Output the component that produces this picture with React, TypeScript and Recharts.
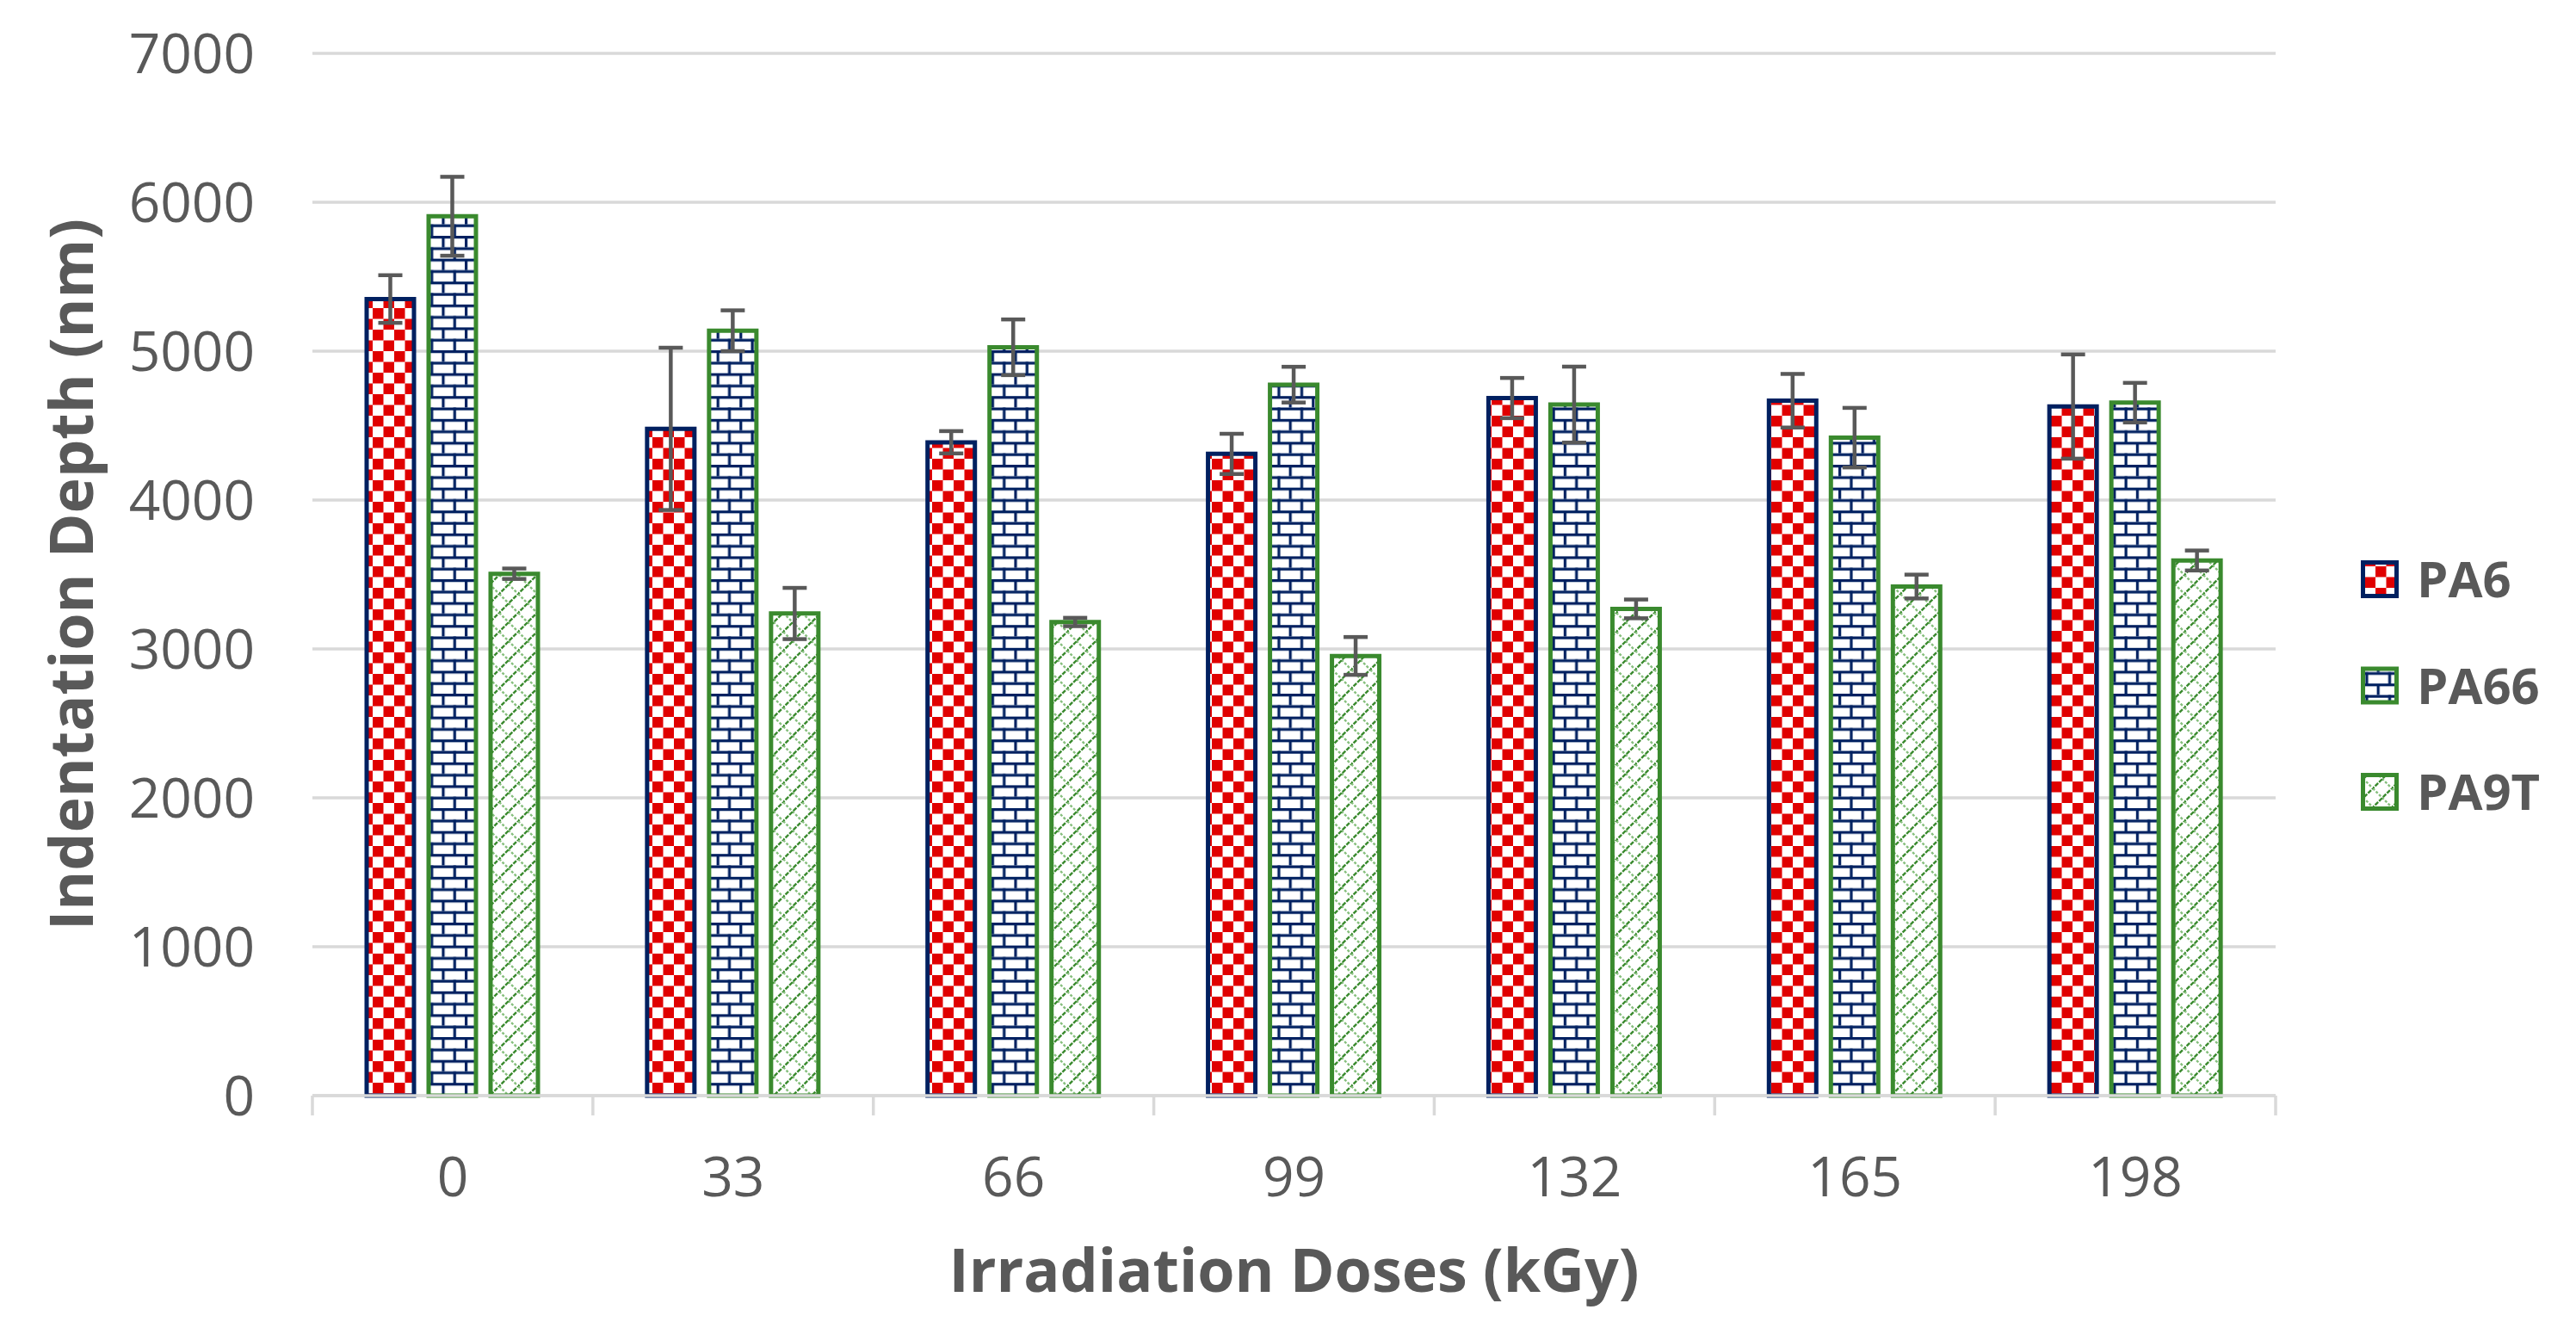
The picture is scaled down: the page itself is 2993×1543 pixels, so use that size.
import React from "react";
import {
  Bar,
  BarChart,
  CartesianGrid,
  ErrorBar,
  Legend,
  XAxis,
  YAxis,
} from "recharts";

const doses = ["0", "33", "66", "99", "132", "165", "198"];
const pa6 = [5350, 4478, 4388, 4310, 4685, 4667, 4628];
const pa6Err = [160, 545, 75, 135, 135, 180, 350];
const pa66 = [5906, 5137, 5026, 4775, 4641, 4419, 4654];
const pa66Err = [265, 137, 187, 120, 255, 200, 133];
const pa9t = [3505, 3238, 3181, 2953, 3269, 3419, 3594];
const pa9tErr = [35, 172, 28, 127, 63, 80, 67];
const yTicks = [0, 1000, 2000, 3000, 4000, 5000, 6000, 7000];

const data = doses.map((dose, i) => ({
  dose,
  pa6: pa6[i],
  pa6Err: pa6Err[i],
  pa66: pa66[i],
  pa66Err: pa66Err[i],
  pa9t: pa9t[i],
  pa9tErr: pa9tErr[i],
}));

const WIDTH = 2977;
const HEIGHT = 1527;
const PLOT_LEFT = 355;
const PLOT_RIGHT = 2636;
const PLOT_TOP = 54;
const AXIS_H = 262;
const BAND = (PLOT_RIGHT - PLOT_LEFT) / doses.length;

const textGray = "#595959";
const gridGray = "#d9d9d9";
const navy = "#002060";
const green = "#3a8a2e";
const font = "'Open Sans', sans-serif";

const seriesStyle: Record<string, { stroke: string; name: string }> = {
  pa6: { stroke: navy, name: "PA6" },
  pa66: { stroke: green, name: "PA66" },
  pa9t: { stroke: green, name: "PA9T" },
};

function patternDefs(prefix: string) {
  return (
    <defs>
      <pattern id={`${prefix}pa6`} width={25} height={25} patternUnits="userSpaceOnUse">
        <rect width={25} height={25} fill="#ffffff" />
        <rect width={12.5} height={12.5} fill="#e00000" />
        <rect x={12.5} y={12.5} width={12.5} height={12.5} fill="#e00000" />
      </pattern>
      <pattern id={`${prefix}pa66`} width={26.6} height={26.6} patternUnits="userSpaceOnUse">
        <rect width={26.6} height={26.6} fill="#ffffff" />
        <rect y={0} width={26.6} height={3.2} fill={navy} />
        <rect y={13.3} width={26.6} height={3.2} fill={navy} />
        <rect x={0} y={0} width={3.2} height={13.3} fill={navy} />
        <rect x={13.3} y={13.3} width={3.2} height={13.3} fill={navy} />
      </pattern>
      <pattern id={`${prefix}pa9t`} width={22} height={22} patternUnits="userSpaceOnUse">
        <rect width={22} height={22} fill="#ffffff" />
        <line x1={0} y1={0} x2={22} y2={22} stroke="#86bf7d" strokeWidth={2.4} strokeDasharray="3 2" />
        <line x1={-2} y1={24} x2={24} y2={-2} stroke={green} strokeWidth={2.4} strokeDasharray="5 1.5" />
      </pattern>
    </defs>
  );
}

function DoseTick(props: any) {
  const { x, y, payload, index } = props;
  const last = index === doses.length - 1;
  return (
    <g>
      <line x1={x - BAND / 2} y1={y} x2={x - BAND / 2} y2={y + 23} stroke={gridGray} strokeWidth={3.5} />
      {last ? (
        <line x1={x + BAND / 2} y1={y} x2={x + BAND / 2} y2={y + 23} stroke={gridGray} strokeWidth={3.5} />
      ) : null}
      <text x={x} y={y + 117} textAnchor="middle" fill={textGray} fontSize={64} fontFamily={font}>
        {payload.value}
      </text>
    </g>
  );
}

function LegendContent(props: any) {
  const items = (props.payload || []) as any[];
  return (
    <svg width={245} height={400}>
      {patternDefs("lg-")}
      {items.map((item, i) => {
        const key = String(item.dataKey);
        const style = seriesStyle[key];
        const cy = 65 + i * 123.5;
        return (
          <g key={key}>
            <rect
              x={10.5}
              y={cy - 19.5}
              width={39}
              height={39}
              fill={`url(#lg-${key})`}
              stroke={style.stroke}
              strokeWidth={5}
            />
            <text
              x={73}
              y={cy + 21}
              fill={textGray}
              fontSize={58}
              fontWeight="bold"
              fontFamily={font}
            >
              {style.name}
            </text>
          </g>
        );
      })}
    </svg>
  );
}

export default function App() {
  return (
    <BarChart
      width={WIDTH}
      height={HEIGHT}
      data={data}
      margin={{ top: PLOT_TOP, right: WIDTH - PLOT_RIGHT, bottom: 0, left: 0 }}
      barSize={55}
      barGap={17}
    >
      {patternDefs("")}
      <CartesianGrid vertical={false} stroke={gridGray} strokeWidth={3.5} />
      <XAxis
        dataKey="dose"
        height={AXIS_H}
        interval={0}
        tickSize={0}
        tickMargin={0}
        tickLine={false}
        axisLine={{ stroke: gridGray, strokeWidth: 3.5 }}
        tick={<DoseTick />}
        label={{
          content: (p: any) => {
            const vb = p.viewBox || {};
            return (
              <text
                x={vb.x + vb.width / 2}
                y={vb.y + 228}
                textAnchor="middle"
                fill={textGray}
                fontSize={70}
                fontWeight="bold"
                fontFamily={font}
              >
                Irradiation Doses (kGy)
              </text>
            );
          },
        }}
      />
      <YAxis
        width={PLOT_LEFT}
        domain={[0, 7000]}
        ticks={yTicks}
        interval={0}
        tickSize={0}
        tickMargin={67}
        tickLine={false}
        axisLine={false}
        tick={{ fill: textGray, fontSize: 64, fontFamily: font }}
        label={{
          content: (p: any) => {
            const vb = p.viewBox || {};
            const cy = vb.y + vb.height / 2;
            return (
              <text
                x={100}
                y={cy}
                transform={`rotate(-90, 100, ${cy})`}
                textAnchor="middle"
                fill={textGray}
                fontSize={70}
                fontWeight="bold"
                fontFamily={font}
              >
                Indentation Depth (nm)
              </text>
            );
          },
        }}
      />
      <Legend
        layout="horizontal"
        verticalAlign="middle"
        align="center"
        content={<LegendContent />}
        wrapperStyle={{ position: "absolute", left: 2727, top: 600, width: 245, height: 400 }}
      />
      <Bar dataKey="pa6" name="PA6" fill="url(#pa6)" stroke={navy} strokeWidth={5} isAnimationActive={false}>
        <ErrorBar dataKey="pa6Err" direction="y" width={14} stroke={textGray} strokeWidth={4.5} />
      </Bar>
      <Bar dataKey="pa66" name="PA66" fill="url(#pa66)" stroke={green} strokeWidth={5} isAnimationActive={false}>
        <ErrorBar dataKey="pa66Err" direction="y" width={14} stroke={textGray} strokeWidth={4.5} />
      </Bar>
      <Bar dataKey="pa9t" name="PA9T" fill="url(#pa9t)" stroke={green} strokeWidth={5} isAnimationActive={false}>
        <ErrorBar dataKey="pa9tErr" direction="y" width={14} stroke={textGray} strokeWidth={4.5} />
      </Bar>
    </BarChart>
  );
}
